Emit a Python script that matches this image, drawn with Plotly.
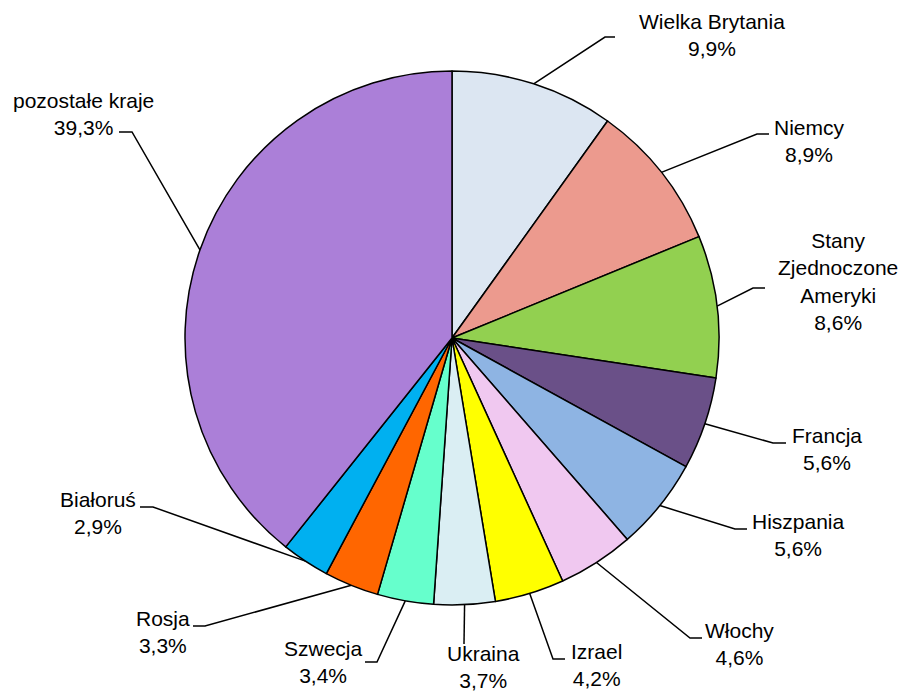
import math
import plotly.graph_objects as go

# ---- data ----
countries = ["Wielka Brytania", "Niemcy", "Stany<br>Zjednoczone<br>Ameryki", "Francja",
             "Hiszpania", "Włochy", "Izrael", "Ukraina", "Szwecja", "Rosja",
             "Białoruś", "pozostałe kraje"]
shares = [9.9, 8.9, 8.6, 5.6, 5.6, 4.6, 4.2, 3.7, 3.4, 3.3, 2.9, 39.3]
share_labels = ["9,9%", "8,9%", "8,6%", "5,6%", "5,6%", "4,6%", "4,2%", "3,7%",
                "3,4%", "3,3%", "2,9%", "39,3%"]
colors = ["#DCE6F2", "#EC9A8E", "#92D050", "#6A5088", "#8EB4E3", "#F0C8F0",
          "#FFFF00", "#DAEEF3", "#66FFCC", "#FF6600", "#00B0F0", "#AB7FD8"]

# ---- layout (pixels) ----
W, H = 901, 694
CX, CY, R = 452, 338, 267
# leader-line elbow, horizontal end, label centre
elbows = [(605, 37), (757, 134), (753, 288), (773, 443), (735, 529), (690, 638),
          (553, 659), (464, 644), (377, 662), (205, 626), (153, 507), (132, 132)]
ends = [(615, 37), (769, 134), (765, 288), (786, 443), (747, 529), (702, 638),
        (565, 659), (464, 644), (365, 662), (193, 626), (140, 507), (119, 132)]
label_pos = [(712, 35), (809, 141), (838, 281), (827, 449), (798, 535), (739, 644),
             (596, 665), (483, 667), (323, 662), (163, 632), (98, 513), (83, 114)]

fig = go.Figure()
fig.add_trace(go.Pie(
    values=shares, labels=countries, sort=False, direction="clockwise", rotation=0,
    marker=dict(colors=colors, line=dict(color="black", width=1.5)),
    textinfo="none", hoverinfo="label+percent", showlegend=False,
    domain=dict(x=[(CX - R) / W, (CX + R) / W], y=[1 - (CY + R) / H, 1 - (CY - R) / H]),
))

total = sum(shares)
cum = 0.0
annotations = []
for i, v in enumerate(shares):
    mid = (cum + v / 2) / total * 2 * math.pi
    cum += v
    ex, ey = CX + R * math.sin(mid), CY - R * math.cos(mid)
    (bx, by), (fx, fy) = elbows[i], ends[i]
    fig.add_trace(go.Scatter(x=[ex, bx, fx], y=[ey, by, fy], mode="lines",
                             line=dict(color="black", width=1.5),
                             hoverinfo="skip", showlegend=False))
    lx, ly = label_pos[i]
    annotations.append(dict(x=lx, y=ly, xref="x", yref="y",
                            text=f"{countries[i]}<br>{share_labels[i]}",
                            showarrow=False, xanchor="center", yanchor="middle",
                            align="center"))

fig.update_layout(
    width=W, height=H, margin=dict(l=0, r=0, t=0, b=0),
    paper_bgcolor="white", plot_bgcolor="rgba(0,0,0,0)",
    font=dict(family="Liberation Sans, Arial, sans-serif", size=21, color="black"),
    xaxis=dict(range=[0, W], visible=False, fixedrange=True),
    yaxis=dict(range=[H, 0], visible=False, fixedrange=True),
    annotations=annotations,
)
fig.write_html("out.html", config={"displayModeBar": False},
               post_script="document.body.style.margin='0';document.body.style.overflow='hidden';")
